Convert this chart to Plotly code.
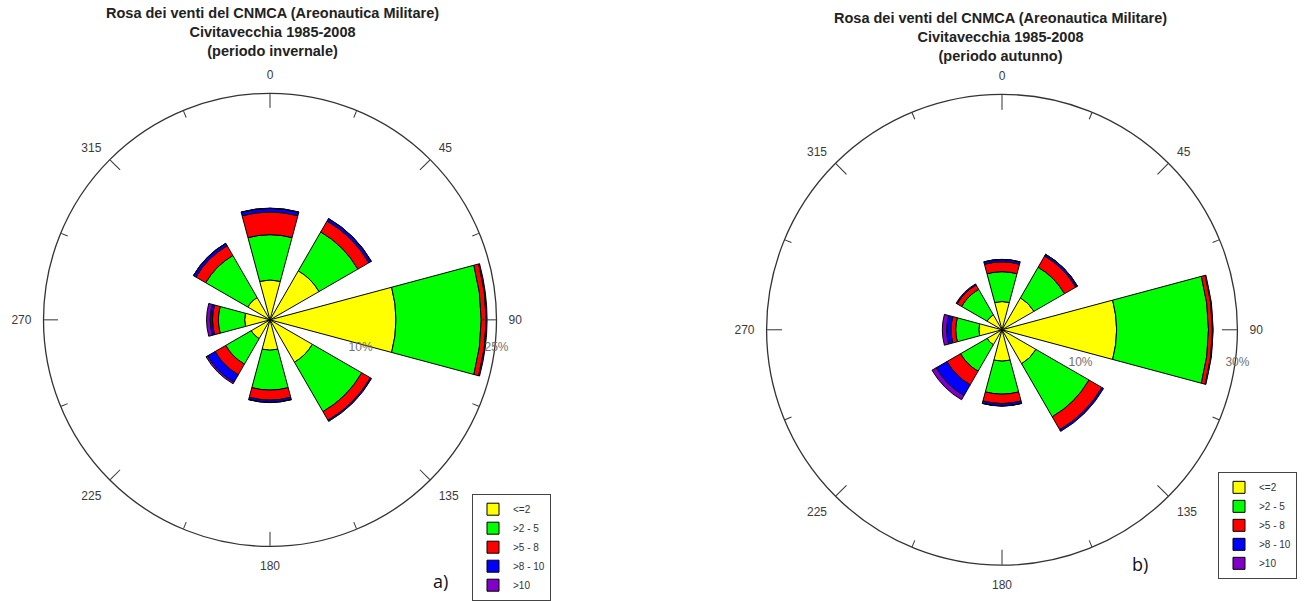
import plotly.graph_objects as go

# ---------------- data ----------------
directions = [0, 45, 90, 135, 180, 225, 270, 315]
speed_classes = ["<=2", ">2 - 5", ">5 - 8", ">8 - 10", ">10"]
angle_ticks = [0, 45, 90, 135, 180, 225, 270, 315]
angle_labels = ["0", "45", "90", "135", "180", "225", "270", "315"]

# (a) periodo invernale, frequency % per class (stacked)
winter_le2 = [4.4, 6.25, 13.9, 5.4, 3.35, 2.4, 2.8, 2.85]
winter_2_5 = [5.0, 4.95, 9.4, 6.3, 4.4, 3.25, 2.9, 5.35]
winter_5_8 = [2.5, 1.4, 0.55, 1.1, 1.1, 1.35, 0.65, 1.25]
winter_8_10 = [0.4, 0.3, 0.1, 0.15, 0.25, 0.95, 0.25, 0.3]
winter_gt10 = [0.03, 0.03, 0.0, 0.0, 0.03, 0.2, 0.4, 0.02]
winter_rmax = 25
winter_rticks = [10, 25]
winter_rlabels = ["10%", "25%"]

# (b) periodo autunno
autumn_le2 = [3.6, 4.7, 14.6, 5.0, 4.0, 2.2, 2.95, 2.2]
autumn_2_5 = [3.8, 4.5, 11.7, 7.8, 4.2, 3.9, 2.95, 3.75]
autumn_5_8 = [1.25, 1.65, 0.5, 1.9, 1.2, 2.0, 0.6, 0.65]
autumn_8_10 = [0.3, 0.25, 0.1, 0.25, 0.3, 1.6, 0.55, 0.15]
autumn_gt10 = [0.02, 0.02, 0.0, 0.0, 0.02, 0.6, 0.55, 0.0]
autumn_rmax = 30
autumn_rticks = [10, 30]
autumn_rlabels = ["10%", "30%"]

title_a = ["Rosa dei venti del CNMCA (Areonautica Militare)",
           "Civitavecchia 1985-2008", "(periodo invernale)"]
title_b = ["Rosa dei venti del CNMCA (Areonautica Militare)",
           "Civitavecchia 1985-2008", "(periodo autunno)"]

# ---------------- style ----------------
class_colors = ["#FFFF00", "#00FF00", "#FF0000", "#0000FF", "#8000C8"]
FONT = "Liberation Sans, Arial, sans-serif"
W, H = 1309, 601


def dom(cx, cy, r):
    return dict(x=[(cx - r) / W, (cx + r) / W],
                y=[(H - cy - r) / H, (H - cy + r) / H])


d_a = dom(270, 322, 228)
d_b = dom(1002, 332, 237)

fig = go.Figure()

series_a = [winter_le2, winter_2_5, winter_5_8, winter_8_10, winter_gt10]
series_b = [autumn_le2, autumn_2_5, autumn_5_8, autumn_8_10, autumn_gt10]

for name, vals, col in zip(speed_classes, series_a, class_colors):
    fig.add_trace(go.Barpolar(r=vals, theta=directions, width=30, name=name,
                              marker=dict(color=col, line=dict(color="black", width=1)),
                              subplot="polar", legend="legend"))
for name, vals, col in zip(speed_classes, series_b, class_colors):
    fig.add_trace(go.Barpolar(r=vals, theta=directions, width=30, name=name,
                              marker=dict(color=col, line=dict(color="black", width=1)),
                              subplot="polar4", legend="legend2"))

for sp in ["polar2", "polar3", "polar5", "polar6"]:
    fig.add_trace(go.Scatterpolar(r=[], theta=[], subplot=sp, showlegend=False,
                                  hoverinfo="skip"))


def main_polar(d, rmax, rticks, rlabels, rfont, rticklen):
    return dict(
        domain=d, bgcolor="white", barmode="stack",
        angularaxis=dict(rotation=90, direction="clockwise",
                         tickvals=angle_ticks, ticktext=angle_labels,
                         ticks="outside", ticklen=9, tickcolor="rgba(0,0,0,0)",
                         tickfont=dict(family=FONT, size=12, color="#3a3a3a"),
                         showline=True, linecolor="#333", linewidth=1.3,
                         showgrid=False),
        radialaxis=dict(range=[0, rmax], tickvals=rticks, ticktext=rlabels,
                        angle=0, side="clockwise", showline=False, showgrid=False,
                        ticks="outside", ticklen=rticklen, tickcolor="rgba(0,0,0,0)",
                        tickfont=rfont, layer="above traces"),
    )


def tick_polar(d, vals, length):
    return dict(
        domain=d, bgcolor="rgba(0,0,0,0)",
        angularaxis=dict(rotation=90, direction="clockwise", tickvals=vals,
                         ticks="inside", ticklen=length, tickcolor="#333", tickwidth=1.3,
                         showticklabels=False, showline=False, showgrid=False),
        radialaxis=dict(visible=False, range=[0, 1]),
    )


minor_ticks = [22.5, 67.5, 112.5, 157.5, 202.5, 247.5, 292.5, 337.5]

fig.update_layout(
    template="none",
    width=W, height=H, margin=dict(l=0, r=0, t=0, b=0),
    paper_bgcolor="white", plot_bgcolor="white",
    font=dict(family=FONT, color="#333"),
    polar=main_polar(d_a, winter_rmax, winter_rticks, winter_rlabels,
                     dict(family=FONT, size=12, color="#707070"), 16),
    polar2=tick_polar(d_a, minor_ticks, 7),
    polar3=tick_polar(d_a, angle_ticks, 14),
    polar4=main_polar(d_b, autumn_rmax, autumn_rticks, autumn_rlabels,
                      dict(family=FONT, size=12, color="#707070"), 21),
    polar5=tick_polar(d_b, minor_ticks, 7),
    polar6=tick_polar(d_b, angle_ticks, 15),
    legend=dict(x=472 / W, y=1 - 497 / H, xanchor="left", yanchor="top",
                bgcolor="white", bordercolor="#444", borderwidth=1,
                font=dict(family=FONT, size=10, color="#333"), tracegroupgap=0),
    legend2=dict(x=1218 / W, y=1 - 475 / H, xanchor="left", yanchor="top",
                 bgcolor="white", bordercolor="#444", borderwidth=1,
                 font=dict(family=FONT, size=10, color="#333"), tracegroupgap=0),
    annotations=[
        dict(text="<br>".join("<b>%s</b>" % t for t in title_a), x=272 / W, y=1 - 3 / H,
             xref="paper", yref="paper", xanchor="center", yanchor="top", showarrow=False,
             font=dict(family=FONT, size=14.5, color="#222")),
        dict(text="<br>".join("<b>%s</b>" % t for t in title_b), x=1001 / W, y=1 - 8 / H,
             xref="paper", yref="paper", xanchor="center", yanchor="top", showarrow=False,
             font=dict(family=FONT, size=14.5, color="#222")),
        dict(text="a)", x=440 / W, y=1 - 585 / H, xref="paper", yref="paper",
             xanchor="center", yanchor="middle",
             showarrow=False, font=dict(family="Open Sans, sans-serif", size=18, color="#111")),
        dict(text="b)", x=1140 / W, y=1 - 568 / H, xref="paper", yref="paper",
             xanchor="center", yanchor="middle",
             showarrow=False, font=dict(family="Open Sans, sans-serif", size=18, color="#111")),
    ],
)

fig.write_html("out.html", config={"displayModeBar": False},
               post_script="document.body.style.margin='0';")
